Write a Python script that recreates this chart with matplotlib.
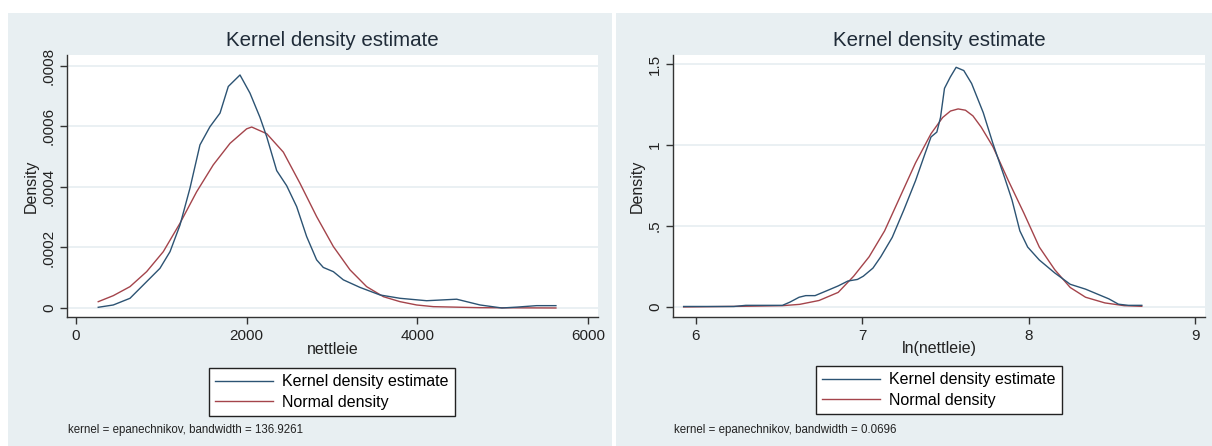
import matplotlib
matplotlib.use("Agg")
import matplotlib.pyplot as plt
from matplotlib.patches import Rectangle

plt.rcParams['font.family'] = ['Liberation Sans', 'DejaVu Sans']

# ---------------- data ----------------
# Left panel: nettleie
kde1_x = [261, 437, 633, 828, 984, 1102, 1219, 1336, 1453, 1570, 1688, 1785,
          1922, 2039, 2156, 2235, 2352, 2469, 2586, 2703, 2820, 2898, 3016,
          3133, 3328, 3563, 3797, 4109, 4461, 4734, 4991, 5172, 5398, 5624]
kde1_y = [0.0000023, 0.0000099, 0.000032, 0.000087, 0.000131, 0.000186,
          0.000274, 0.000396, 0.000539, 0.000599, 0.000644, 0.000732,
          0.00077, 0.00071, 0.00063, 0.000566, 0.000454, 0.000404, 0.000335,
          0.000236, 0.000159, 0.000134, 0.00012, 0.000093, 0.000068,
          0.000043, 0.000032, 0.000024, 0.000029, 0.00001, 0.0, 0.000003,
          0.0000077, 0.0000077]
norm1_x = [261, 437, 633, 828, 1023, 1219, 1414, 1609, 1805, 2000, 2059, 2235,
           2430, 2625, 2820, 3016, 3211, 3406, 3602, 3797, 3992, 4188, 4734, 5624]
norm1_y = [0.0000208, 0.0000407, 0.0000705, 0.00012, 0.000186, 0.00028,
           0.000384, 0.000473, 0.000544, 0.000592, 0.000598, 0.000576,
           0.000515, 0.000412, 0.000302, 0.000203, 0.000126, 0.0000705,
           0.0000374, 0.0000209, 0.0000099, 0.0000044, 0.000001, 0.0]

# Right panel: ln(nettleie)
kde2_x = [5.926, 6.228, 6.30, 6.52, 6.565, 6.62, 6.66, 6.716, 6.786, 6.855,
          6.913, 6.971, 7.006, 7.064, 7.111, 7.18, 7.25, 7.32, 7.378, 7.413,
          7.448, 7.47, 7.494, 7.529, 7.564, 7.61, 7.657, 7.727, 7.785, 7.855,
          7.90, 7.947, 7.994, 8.064, 8.157, 8.25, 8.342, 8.412, 8.482, 8.54,
          8.60, 8.68]
kde2_y = [0.003, 0.003, 0.01, 0.01, 0.03, 0.06, 0.07, 0.07, 0.10, 0.13,
          0.16, 0.17, 0.19, 0.24, 0.31, 0.43, 0.60, 0.78, 0.95, 1.05,
          1.08, 1.17, 1.35, 1.42, 1.48, 1.46, 1.38, 1.20, 1.01, 0.80,
          0.66, 0.47, 0.37, 0.29, 0.21, 0.14, 0.11, 0.08, 0.05, 0.017,
          0.01, 0.01]
norm2_x = [5.926, 6.274, 6.52, 6.623, 6.74, 6.855, 6.948, 7.041, 7.134, 7.227,
           7.32, 7.413, 7.483, 7.53, 7.576, 7.62, 7.665, 7.715, 7.785, 7.878,
           7.971, 8.064, 8.157, 8.25, 8.342, 8.458, 8.574, 8.68]
norm2_y = [0.0, 0.004, 0.008, 0.016, 0.04, 0.09, 0.19, 0.31, 0.47, 0.68,
           0.89, 1.07, 1.17, 1.21, 1.223, 1.215, 1.18, 1.11, 0.99, 0.78,
           0.58, 0.37, 0.23, 0.12, 0.06, 0.025, 0.008, 0.004]

titles = ["Kernel density estimate", "Kernel density estimate"]
xlabels = ["nettleie", "ln(nettleie)"]
ylabel = "Density"
legend_labels = ["Kernel density estimate", "Normal density"]
notes = ["kernel = epanechnikov, bandwidth = 136.9261",
         "kernel = epanechnikov, bandwidth = 0.0696"]
xticks1 = [0, 2000, 4000, 6000]
yticks1 = [0, 0.0002, 0.0004, 0.0006, 0.0008]
yticklabels1 = ["0", ".0002", ".0004", ".0006", ".0008"]
xticks2 = [6, 7, 8, 9]
yticks2 = [0, 0.5, 1.0, 1.5]
yticklabels2 = ["0", ".5", "1", "1.5"]

# ---------------- styling ----------------
W, H = 1212, 446
BG = '#e8eff2'
GRID = '#e6eef1'
BLUE = '#2c5373'
RED = '#a4444b'
TXT = '#222222'
TITLE = '#1f2b38'

fig = plt.figure(figsize=(W / 100, H / 100), dpi=100)
fig.patch.set_facecolor('white')

def fx(px):
    return px / W

def fy(py):
    return 1 - py / H

# panel backgrounds
fig.patches.append(Rectangle((fx(8), 0), fx(612 - 8), fy(13), transform=fig.transFigure,
                             facecolor=BG, edgecolor='none', zorder=-10))
fig.patches.append(Rectangle((fx(616), 0), fx(W - 616), fy(13), transform=fig.transFigure,
                             facecolor=BG, edgecolor='none', zorder=-10))

panels = [
    dict(left=67, right=598, xs=(kde1_x, norm1_x), ys=(kde1_y, norm1_y),
         xlim=(-105, 6117), ylim=(-0.0000298, 0.000836), xt=xticks1, yt=yticks1,
         ytl=yticklabels1, leg_cx=332, leg_top=368, note_x=68),
    dict(left=673, right=1205, xs=(kde2_x, norm2_x), ys=(kde2_y, norm2_y),
         xlim=(5.862, 9.06), ylim=(-0.062, 1.556), xt=xticks2, yt=yticks2,
         ytl=yticklabels2, leg_cx=939, leg_top=366, note_x=674),
]

top_px, bot_px = 55, 317
for i, p in enumerate(panels):
    ax = fig.add_axes([fx(p['left']), fy(bot_px), fx(p['right'] - p['left']),
                       (bot_px - top_px) / H])
    ax.set_facecolor('white')
    for y in p['yt']:
        ax.axhline(y, color=GRID, lw=1.2, zorder=0)
    l1, = ax.plot(p['xs'][0], p['ys'][0], color=BLUE, lw=1.0, zorder=3)
    l2, = ax.plot(p['xs'][1], p['ys'][1], color=RED, lw=1.0, zorder=2)
    ax.set_xlim(*p['xlim'])
    ax.set_ylim(*p['ylim'])
    ax.set_xticks(p['xt'])
    ax.set_xticklabels([str(t) for t in p['xt']])
    ax.set_yticks(p['yt'])
    ax.set_yticklabels(p['ytl'], rotation=90, va='center')
    for s in ['top', 'right']:
        ax.spines[s].set_visible(False)
    for s in ['left', 'bottom']:
        ax.spines[s].set_color('#333333')
        ax.spines[s].set_linewidth(1.0)
    ax.tick_params(axis='both', direction='out', length=5, width=1, color='#333333',
                   labelsize=11, labelcolor=TXT)
    ax.tick_params(axis='x', pad=4)
    ax.tick_params(axis='y', pad=3)
    ax.set_xlabel(xlabels[i], fontsize=11.5, color=TXT, va='center')
    ax.xaxis.set_label_coords(0.5, (bot_px - 349) / (bot_px - top_px))
    ax.set_ylabel(ylabel, fontsize=11.5, color=TXT, va='center')
    ax.yaxis.set_label_coords((31 - 67) / (p['right'] - p['left']), 0.5)

    fig.text(fx((p['left'] + p['right']) / 2), fy(40), titles[i], fontsize=14.8,
             color=TITLE, ha='center', va='center')
    leg = ax.legend([l1, l2], legend_labels, loc='upper center',
                    bbox_to_anchor=(fx(p['leg_cx']), fy(p['leg_top'])),
                    bbox_transform=fig.transFigure, fontsize=11.5, frameon=True,
                    fancybox=False, handlelength=3.6, handletextpad=0.6,
                    labelspacing=0.35, borderpad=0.4, borderaxespad=0)
    fr = leg.get_frame()
    fr.set_edgecolor('#222222')
    fr.set_linewidth(1.0)
    fr.set_facecolor('white')
    fr.set_alpha(1)
    fig.text(fx(p['note_x']), fy(430), notes[i], fontsize=8.3, color=TXT,
             ha='left', va='center')

fig.savefig('out.png', dpi=100, facecolor='white')
